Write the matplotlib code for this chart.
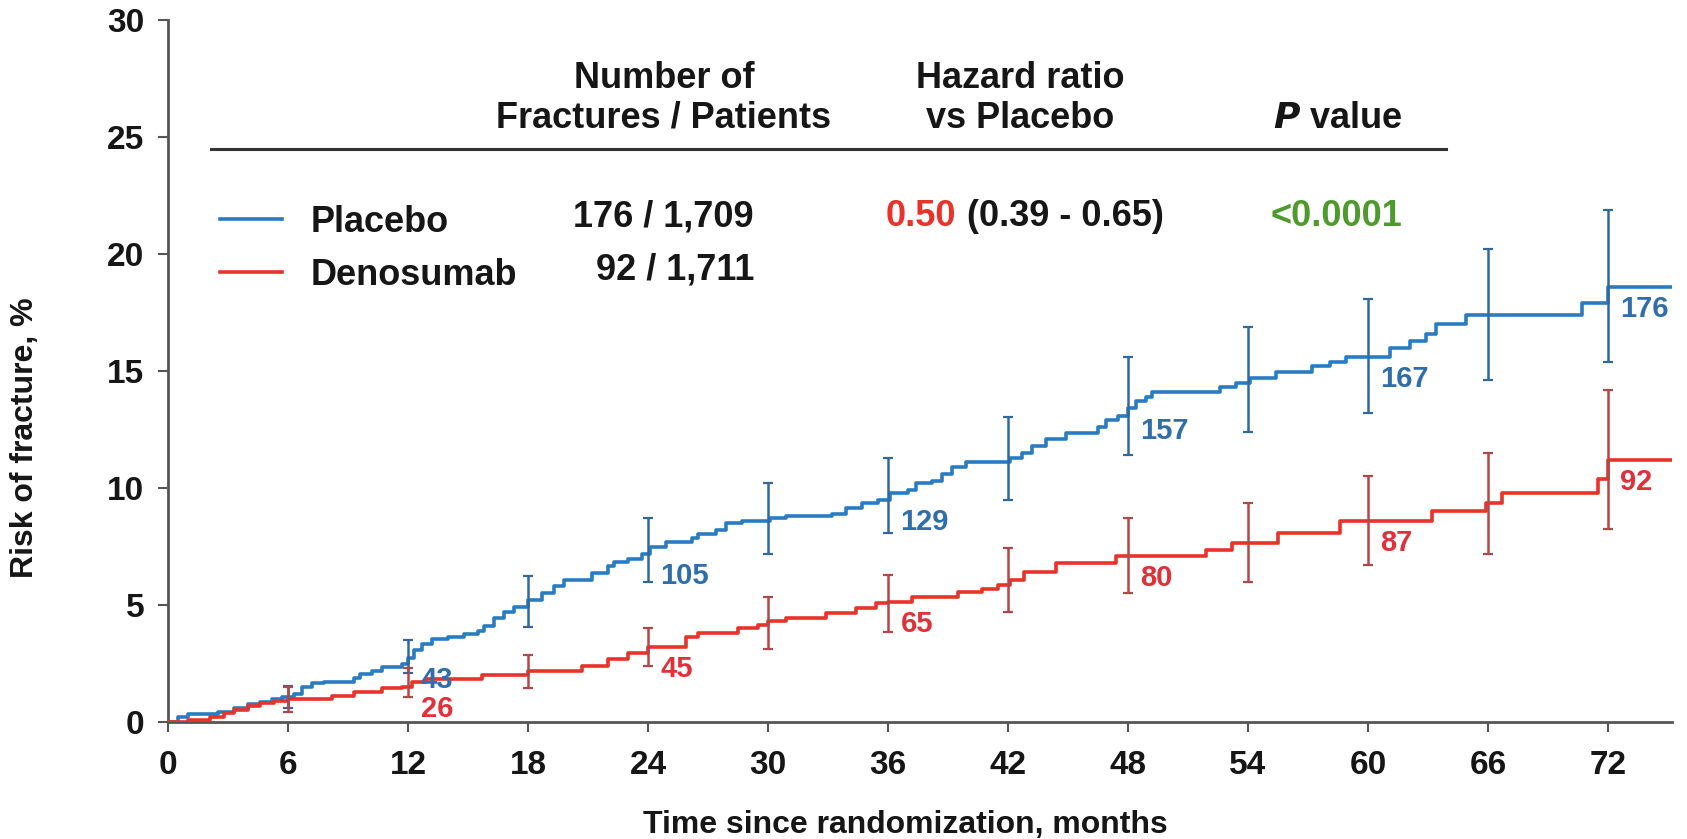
import matplotlib
matplotlib.use("Agg")
import matplotlib.pyplot as plt
from matplotlib.lines import Line2D
import numpy as np

# Kaplan-Meier style cumulative risk (%), step changes
placebo_t = [0, 0.5, 1.0, 2.5, 3.3, 4.0, 4.6, 5.2, 5.7, 6.3, 6.7, 7.2, 7.8, 9.3, 9.6,
             10.2, 10.7, 11.7, 12.0, 12.3, 12.7, 13.2, 14.0, 14.8, 15.5, 15.8, 16.3,
             16.8, 17.3, 18.0, 18.7, 19.3, 19.8, 21.2, 22.0, 22.3, 23.0, 23.7, 24.1,
             24.9, 26.2, 26.5, 27.4, 27.9, 28.7, 30.1, 30.9, 33.2, 33.9, 34.7, 35.5,
             36.1, 37.0, 37.4, 38.2, 38.7, 39.2, 39.9, 42.1, 42.7, 43.2, 43.9, 44.9,
             46.5, 46.9, 47.5, 48.0, 48.4, 48.9, 49.2, 52.6, 53.4, 54.1, 55.4, 57.2,
             58.1, 58.9, 61.1, 62.1, 62.9, 63.4, 64.9, 70.7, 72.0, 75.2]
placebo_risk = [0, 0.2, 0.35, 0.45, 0.58, 0.75, 0.87, 0.98, 1.08, 1.2, 1.5, 1.65, 1.72,
                1.9, 2.05, 2.2, 2.35, 2.5, 2.75, 3.1, 3.35, 3.55, 3.65, 3.75, 3.87,
                4.1, 4.45, 4.7, 4.9, 5.2, 5.5, 5.8, 6.05, 6.35, 6.65, 6.85, 6.95, 7.2,
                7.5, 7.7, 7.85, 8.05, 8.2, 8.5, 8.6, 8.7, 8.8, 8.9, 9.14, 9.35, 9.5,
                9.77, 9.9, 10.2, 10.3, 10.6, 10.9, 11.1, 11.3, 11.5, 11.8, 12.1, 12.35,
                12.6, 12.9, 13.1, 13.4, 13.7, 13.9, 14.1, 14.3, 14.5, 14.7, 14.95,
                15.2, 15.4, 15.6, 16.0, 16.3, 16.6, 17.0, 17.4, 17.9, 18.6, 18.6]

dmab_t = [0, 1.0, 2.1, 2.8, 3.3, 4.0, 4.6, 5.3, 6.0, 8.2, 9.3, 10.7, 11.7, 12.2, 12.9,
          15.7, 18.0, 20.7, 22.0, 23.0, 24.0, 25.9, 26.5, 28.5, 29.5, 30.0, 30.9,
          32.9, 34.4, 35.4, 36.0, 37.2, 39.5, 40.7, 41.5, 42.1, 42.8, 44.4, 47.4,
          51.9, 53.2, 55.5, 58.6, 63.2, 65.9, 66.7, 71.5, 72.0, 75.2]
dmab_risk = [0, 0.1, 0.2, 0.4, 0.53, 0.68, 0.8, 0.9, 1.0, 1.1, 1.3, 1.45, 1.5, 1.7,
             1.85, 2.0, 2.2, 2.4, 2.7, 2.95, 3.2, 3.65, 3.8, 4.0, 4.15, 4.3, 4.45,
             4.65, 4.86, 5.07, 5.15, 5.35, 5.57, 5.7, 5.85, 6.07, 6.43, 6.8, 7.1,
             7.35, 7.64, 8.1, 8.6, 9.0, 9.35, 9.8, 10.4, 11.2, 11.2]

# 95% CI at 6-month visits
ci_months = [6, 12, 18, 24, 30, 36, 42, 48, 54, 60, 66, 72]
placebo_ci_low = [0.6, 2.1, 4.05, 6.0, 7.2, 8.06, 9.5, 11.4, 12.4, 13.2, 14.6, 15.4]
placebo_ci_high = [1.55, 3.5, 6.25, 8.7, 10.2, 11.27, 13.05, 15.6, 16.9, 18.1, 20.2, 21.9]
dmab_ci_low = [0.45, 1.08, 1.45, 2.4, 3.13, 3.86, 4.7, 5.5, 6.0, 6.7, 7.2, 8.25]
dmab_ci_high = [1.5, 2.3, 2.86, 4.0, 5.36, 6.28, 7.42, 8.7, 9.36, 10.5, 11.5, 14.2]

# cumulative fracture counts at yearly visits
count_months = [12, 24, 36, 48, 60, 72]
placebo_counts = [43, 105, 129, 157, 167, 176]
dmab_counts = [26, 45, 65, 80, 87, 92]

x_ticks = list(range(0, 73, 6))
y_ticks = [0, 5, 10, 15, 20, 25, 30]

BLUE = "#2a7cc2"
BLUE_BAR = "#33689c"
BLUE_TXT = "#2f6eaa"
RED = "#e8322a"
RED_BAR = "#b0484a"
RED_TXT = "#e0303a"
GREEN = "#4f9a2c"
INK = "#161616"
AXIS = "#555555"

plt.rcParams["font.family"] = ["Liberation Sans", "DejaVu Sans"]
plt.rcParams["font.weight"] = "bold"


def step_value(ts, vs, m):
    i = np.searchsorted(ts, m, side="right") - 1
    return vs[i]


fig = plt.figure(figsize=(16.87, 8.39), dpi=100)
ax = fig.add_axes([0.0996, 0.1394, 0.8915, 0.8367])

ax.step(placebo_t, placebo_risk, where="post", color=BLUE, lw=2.6, zorder=3)
ax.step(dmab_t, dmab_risk, where="post", color=RED, lw=2.6, zorder=3)

for lo, hi, col in [(placebo_ci_low, placebo_ci_high, BLUE_BAR),
                    (dmab_ci_low, dmab_ci_high, RED_BAR)]:
    lo = np.array(lo)
    hi = np.array(hi)
    mid = (lo + hi) / 2
    ax.errorbar(ci_months, mid, yerr=(hi - lo) / 2, fmt="none", ecolor=col,
                elinewidth=1.8, capsize=3.5, capthick=1.6, zorder=4)

for counts, ts, vs, col in [(placebo_counts, placebo_t, placebo_risk, BLUE_TXT),
                            (dmab_counts, dmab_t, dmab_risk, RED_TXT)]:
    for m, c in zip(count_months, counts):
        ax.annotate(str(c), (m, step_value(ts, vs, m)), xytext=(9, -16),
                    textcoords="offset points", ha="left", va="center",
                    fontsize=21, color=col, fontweight="bold", zorder=5)

ax.set_xlim(0, 75.2)
ax.set_ylim(0, 30)
ax.set_xticks(x_ticks)
ax.set_yticks(y_ticks)
for s in ["top", "right"]:
    ax.spines[s].set_visible(False)
for s in ["left", "bottom"]:
    ax.spines[s].set_color(AXIS)
    ax.spines[s].set_linewidth(2)
ax.tick_params(axis="both", length=7, width=1.5, color=AXIS, labelsize=24,
               labelcolor=INK)
ax.tick_params(axis="x", pad=13)
ax.tick_params(axis="y", pad=10)

ax.set_xlabel("Time since randomization, months", fontsize=23, fontweight="bold",
              color=INK, va="center")
ax.set_ylabel("Risk of fracture, %", fontsize=23, fontweight="bold", color=INK,
              va="center")
ax.xaxis.set_label_coords(0.49, -0.146)
ax.yaxis.set_label_coords(-0.095, 0.405)

# summary table above the curves
hdr = dict(fontsize=26, fontweight="bold", color=INK, ha="center", va="center")
ax.text(24.8, 27.5, "Number of", **hdr)
ax.text(24.8, 25.8, "Fractures / Patients", **hdr)
ax.text(42.6, 27.5, "Hazard ratio", **hdr)
ax.text(42.6, 25.8, "vs Placebo", **hdr)
ax.text(58.5, 25.8, "$\\mathbfit{P}$ value", **hdr)
ax.plot([2.15, 63.9], [24.5, 24.5], color="#333333", lw=2.2, clip_on=False)

leg = ax.legend(handles=[Line2D([], [], color=BLUE, lw=2.6),
                         Line2D([], [], color=RED, lw=2.6)],
                labels=["Placebo", "Denosumab"], loc="upper left",
                bbox_to_anchor=(0.0346, 0.737), frameon=False, borderpad=0,
                borderaxespad=0, handlelength=1.72, handletextpad=0.78,
                labelspacing=0.5, prop=dict(size=26, weight="bold"))
for t in leg.get_texts():
    t.set_color(INK)

row = dict(fontsize=26, fontweight="bold", color=INK, va="center")
ax.text(29.3, 21.6, "176 / 1,709", ha="right", **row)
ax.text(29.3, 19.3, "92 / 1,711", ha="right", **row)
hr = ax.text(35.9, 21.6, "0.50", ha="left", color=RED,
             fontsize=26, fontweight="bold", va="center")
ax.annotate(" (0.39 - 0.65)", xy=(1, 0.5), xycoords=hr, ha="left", va="center",
            fontsize=26, fontweight="bold", color=INK)
ax.text(55.15, 21.6, "<0.0001", ha="left", color=GREEN,
        fontsize=26, fontweight="bold", va="center")

fig.savefig("out.png", dpi=100)
